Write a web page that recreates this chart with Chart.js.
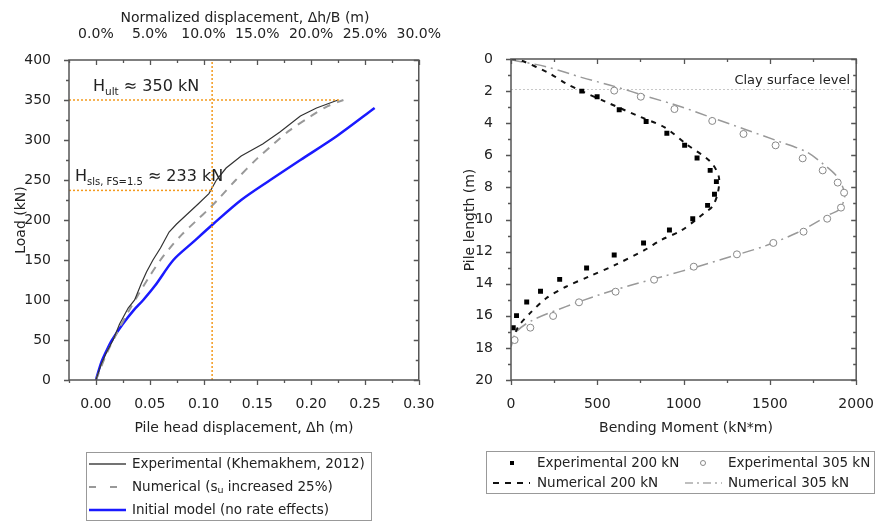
<!DOCTYPE html>
<html><head><meta charset="utf-8">
<script src="https://cdn.jsdelivr.net/npm/chart.js@4.4.1/dist/chart.umd.min.js"></script>
<style>
html,body{margin:0;padding:0;background:#fff;}
#wrap{position:relative;width:882px;height:523px;overflow:hidden;}
#c1{position:absolute;left:0;top:0;}
#c2{position:absolute;left:450px;top:0;}
</style></head><body>
<div id="wrap"><canvas id="c1" width="450" height="523"></canvas><canvas id="c2" width="432" height="523"></canvas></div>
<script>
// ---------- Left chart data ----------
const expDisp = [0,0.005,0.010,0.016,0.022,0.030,0.036,0.042,0.047,0.053,0.060,0.068,0.075,0.083,0.095,0.105,0.112,0.121,0.135,0.155,0.171,0.190,0.205,0.225];
const expLoad = [0,20,35,50,70,90,100,120,135,150,165,185,195,205,220,233,250,265,280,295,310,330,340,350];
const numDisp = [0,0.010,0.020,0.030,0.040,0.050,0.060,0.070,0.080,0.094,0.105,0.115,0.130,0.150,0.165,0.180,0.200,0.215,0.230];
const numLoad = [0,33,60,85,108,130,150,167,182,200,214,228,250,277,295,312,330,342,350];
const iniDisp = [0,0.005,0.010,0.015,0.025,0.035,0.044,0.055,0.072,0.090,0.109,0.135,0.162,0.190,0.224,0.259];
const iniLoad = [0,22,37,50,70,87,100,118,150,172,195,225,250,275,305,340];
const hultX = [-0.025,0.227]; const hultY = [350,350];
const hslsX = [-0.025,0.108]; const hslsY = [237,237];
const vertX = [0.108,0.108]; const vertY = [0,400];
const xTicksLeft = [0,0.05,0.10,0.15,0.20,0.25,0.30];
const xMinorLeft = [-0.025,0.025,0.075,0.125,0.175,0.225,0.275];
const yTicksLeft = [0,50,100,150,200,250,300,350,400];
const yMinorLeft = [25,75,125,175,225,275,325,375];
const leftLegend = ['Experimental (Khemakhem, 2012)','Numerical (s','u',' increased 25%)','Initial model (no rate effects)'];

// ---------- Right chart data ----------
const exp200M = [410,499,627,783,903,1006,1078,1154,1190,1179,1139,1053,918,768,598,438,282,171,91,32,13];
const exp200D = [2.0,2.35,3.16,3.9,4.63,5.38,6.17,6.94,7.64,8.43,9.12,9.95,10.65,11.46,12.21,13.02,13.73,14.47,15.14,15.99,16.74];
const exp305M = [598,752,947,1166,1347,1533,1690,1806,1893,1930,1912,1832,1695,1520,1309,1059,829,606,394,244,112,21];
const exp305D = [1.97,2.35,3.12,3.86,4.67,5.38,6.19,6.94,7.7,8.33,9.26,9.95,10.76,11.46,12.17,12.94,13.75,14.5,15.16,16.01,16.74,17.51];
const num200M = [0,60,223,318,420,547,747,890,1023,1156,1204,1198,1166,1120,1070,985,870,775,604,451,318,204,109,42,4,0];
const num200D = [0,0.1,0.9,1.52,2.05,2.66,3.6,4.26,5.36,6.4,7.33,8.37,9.2,9.6,10.03,10.7,11.28,11.9,12.83,13.56,14.19,14.91,15.85,16.68,17.71,18.0];
const num305M = [0,10,204,413,604,794,985,1175,1366,1556,1709,1804,1890,1928,1932,1899,1842,1790,1651,1461,1270,1080,890,699,509,318,127,32,0];
const num305D = [0,0.06,0.48,1.16,1.72,2.35,2.97,3.7,4.42,5.15,5.77,6.5,7.33,8.16,8.7,9.41,9.7,10.05,10.86,11.69,12.32,12.94,13.52,14.08,14.7,15.43,16.26,16.99,17.93];
const clayX = [0,2000]; const clayY = [1.9,1.9];
const xMinorRight = [250,750,1250,1750];
const yMinorRight = [1,3,5,7,9,11,13,15,17,19];
const rightLegend = ['Experimental 200 kN','Experimental 305 kN','Numerical 200 kN','Numerical 305 kN'];

const FONT = "'DejaVu Sans', sans-serif";
const TXT = '#222';
const AX = '#555';
const zip = (xs, ys) => xs.map((x, i) => ({x, y: ys[i]}));

function subText(ctx, x, y, parts, size, subSize) {
  let cx = x;
  for (const [t, sub] of parts) {
    ctx.font = (sub ? subSize : size) + 'px ' + FONT;
    ctx.fillText(t, cx, sub ? y + size * 0.28 : y);
    cx += ctx.measureText(t).width;
  }
}

function drawFrameTicks(chart, xMinor, yMinor) {
  const {ctx, chartArea: {left, right, top, bottom}, scales} = chart;
  ctx.save();
  ctx.strokeStyle = AX; ctx.lineWidth = 1.3;
  ctx.beginPath();
  const xs = scales.x, ys = scales.y;
  xs.ticks.forEach(t => { const p = Math.round(xs.getPixelForValue(t.value)) + 0.5;
    ctx.moveTo(p, bottom); ctx.lineTo(p, bottom + 5); ctx.moveTo(p, top); ctx.lineTo(p, top + 5); });
  xMinor.forEach(v => { const p = Math.round(xs.getPixelForValue(v)) + 0.5;
    ctx.moveTo(p, bottom); ctx.lineTo(p, bottom + 3); ctx.moveTo(p, top); ctx.lineTo(p, top + 3); });
  ys.ticks.forEach(t => { const p = Math.round(ys.getPixelForValue(t.value)) + 0.5;
    ctx.moveTo(left, p); ctx.lineTo(left - 5, p); ctx.moveTo(right, p); ctx.lineTo(right - 5, p); });
  yMinor.forEach(v => { const p = Math.round(ys.getPixelForValue(v)) + 0.5;
    ctx.moveTo(left, p); ctx.lineTo(left - 3, p); ctx.moveTo(right, p); ctx.lineTo(right - 3, p); });
  ctx.stroke();
  ctx.lineWidth = 1.5;
  ctx.strokeRect(left, top, right - left, bottom - top);
  ctx.restore();
}

const leftPlugin = {
  id: 'leftDecor',
  afterDraw(chart) {
    const ctx = chart.ctx;
    drawFrameTicks(chart, xMinorLeft, yMinorLeft);
    ctx.save();
    ctx.fillStyle = TXT;
    ctx.textBaseline = 'alphabetic';
    ctx.textAlign = 'left';
    subText(ctx, 93, 91, [['H', false], ['ult', true], [' \u2248 350 kN', false]], 16, 10.5);
    subText(ctx, 75, 181, [['H', false], ['sls, FS=1.5', true], [' \u2248 233 kN', false]], 16, 10);
    // axis titles
    ctx.font = '14px ' + FONT;
    ctx.textAlign = 'center'; ctx.textBaseline = 'middle';
    ctx.fillText('Normalized displacement, \u0394h/B (m)', 245, 18);
    ctx.fillText('Pile head displacement, \u0394h (m)', 244, 428);
    ctx.save(); ctx.translate(21, 220); ctx.rotate(-Math.PI / 2);
    ctx.fillText('Load (kN)', 0, 0); ctx.restore();
    // legend
    ctx.strokeStyle = '#999'; ctx.lineWidth = 1;
    ctx.strokeRect(86.5, 452.5, 285, 68);
    ctx.lineWidth = 1.5; ctx.strokeStyle = '#444';
    ctx.beginPath(); ctx.moveTo(89, 464); ctx.lineTo(126, 464); ctx.stroke();
    ctx.strokeStyle = '#999'; ctx.lineWidth = 2;
    ctx.beginPath(); ctx.moveTo(89, 487); ctx.lineTo(96, 487); ctx.moveTo(110, 487); ctx.lineTo(117, 487); ctx.stroke();
    ctx.strokeStyle = '#1a1aff'; ctx.lineWidth = 2.5;
    ctx.beginPath(); ctx.moveTo(89, 510); ctx.lineTo(126, 510); ctx.stroke();
    ctx.textAlign = 'left'; ctx.textBaseline = 'middle'; ctx.fillStyle = TXT;
    ctx.font = '13.5px ' + FONT;
    ctx.fillText(leftLegend[0], 132, 464);
    subText(ctx, 132, 487, [[leftLegend[1], false], [leftLegend[2], true], [leftLegend[3], false]], 13.5, 9.5);
    ctx.font = '13.5px ' + FONT;
    ctx.fillText(leftLegend[4], 132, 510);
    ctx.restore();
  }
};

const rightPlugin = {
  id: 'rightDecor',
  afterDraw(chart) {
    const ctx = chart.ctx;
    drawFrameTicks(chart, xMinorRight, yMinorRight);
    ctx.save();
    ctx.fillStyle = TXT;
    ctx.font = '13px ' + FONT;
    ctx.textAlign = 'right'; ctx.textBaseline = 'alphabetic';
    ctx.fillText('Clay surface level', 400, 84);
    ctx.font = '14px ' + FONT;
    ctx.textAlign = 'center'; ctx.textBaseline = 'middle';
    ctx.fillText('Bending Moment (kN*m)', 236, 428);
    ctx.save(); ctx.translate(20, 220); ctx.rotate(-Math.PI / 2);
    ctx.fillText('Pile length (m)', 0, 0); ctx.restore();
    // legend
    ctx.strokeStyle = '#999'; ctx.lineWidth = 1;
    ctx.strokeRect(36.5, 451.5, 388, 42);
    ctx.fillStyle = '#000';
    ctx.fillRect(60, 461, 4, 4);
    ctx.strokeStyle = '#888'; ctx.lineWidth = 1;
    ctx.beginPath(); ctx.arc(253, 463, 2.5, 0, Math.PI * 2); ctx.stroke();
    ctx.strokeStyle = '#111'; ctx.lineWidth = 2;
    ctx.setLineDash([6, 6]);
    ctx.beginPath(); ctx.moveTo(43, 483); ctx.lineTo(80, 483); ctx.stroke();
    ctx.strokeStyle = '#aaa'; ctx.lineWidth = 1.5;
    ctx.setLineDash([8, 4, 2, 4]);
    ctx.beginPath(); ctx.moveTo(235, 483); ctx.lineTo(272, 483); ctx.stroke();
    ctx.setLineDash([]);
    ctx.fillStyle = TXT; ctx.textAlign = 'left'; ctx.textBaseline = 'middle';
    ctx.font = '13.5px ' + FONT;
    ctx.fillText(rightLegend[0], 87, 463);
    ctx.fillText(rightLegend[1], 278, 463);
    ctx.fillText(rightLegend[2], 87, 483);
    ctx.fillText(rightLegend[3], 278, 483);
    ctx.restore();
  }
};

const tickFont = {family: FONT, size: 14};
const orange = '#f39a1e';

new Chart(document.getElementById('c1'), {
  type: 'scatter',
  data: {datasets: [
    {data: zip(vertX, vertY), showLine: true, borderColor: orange, borderWidth: 1.5, borderDash: [2, 2], pointRadius: 0},
    {data: zip(hultX, hultY), showLine: true, borderColor: orange, borderWidth: 1.5, borderDash: [2, 2], pointRadius: 0},
    {data: zip(hslsX, hslsY), showLine: true, borderColor: orange, borderWidth: 1.5, borderDash: [2, 2], pointRadius: 0},
    {label: 'Experimental (Khemakhem, 2012)', data: zip(expDisp, expLoad), showLine: true, borderColor: '#333', borderWidth: 1.2, pointRadius: 0, tension: 0},
    {label: 'Numerical (su increased 25%)', data: zip(numDisp, numLoad), showLine: true, borderColor: '#999', borderWidth: 2, borderDash: [8, 7], pointRadius: 0, tension: 0.3},
    {label: 'Initial model (no rate effects)', data: zip(iniDisp, iniLoad), showLine: true, borderColor: '#1a1aff', borderWidth: 2.5, pointRadius: 0, tension: 0.3}
  ]},
  options: {
    responsive: false, animation: false,
    layout: {padding: 0},
    plugins: {legend: {display: false}, tooltip: {enabled: false}},
    scales: {
      x: {type: 'linear', position: 'bottom', min: -0.025, max: 0.30,
        afterBuildTicks: a => { a.ticks = xTicksLeft.map(v => ({value: v})); },
        ticks: {callback: v => v.toFixed(2), font: tickFont, color: TXT, padding: 8, maxRotation: 0, autoSkip: false},
        grid: {display: false}, border: {display: false},
        afterFit: s => { s.height = 143; }},
      x2: {type: 'linear', position: 'top', min: -0.025, max: 0.30,
        afterBuildTicks: a => { a.ticks = xTicksLeft.map(v => ({value: v})); },
        ticks: {callback: v => (v * 100).toFixed(1) + '%', font: tickFont, color: TXT, padding: 9, maxRotation: 0, autoSkip: false},
        grid: {display: false}, border: {display: false},
        afterFit: s => { s.height = 60; }},
      y: {type: 'linear', min: 0, max: 400,
        afterBuildTicks: a => { a.ticks = yTicksLeft.map(v => ({value: v})); },
        ticks: {callback: v => String(v), font: tickFont, color: TXT, padding: 10},
        grid: {display: false}, border: {display: false},
        afterFit: s => { s.width = 69; }},
      y2: {type: 'linear', position: 'right', min: 0, max: 400,
        ticks: {display: false}, grid: {display: false}, border: {display: false},
        afterFit: s => { s.width = 31; }}
    }
  },
  plugins: [leftPlugin]
});

new Chart(document.getElementById('c2'), {
  type: 'scatter',
  data: {datasets: [
    {label: 'Experimental 200 kN', data: zip(exp200M, exp200D), showLine: false, pointStyle: 'rect', pointRadius: 3.5, backgroundColor: '#000', borderColor: '#000', borderWidth: 0},
    {label: 'Experimental 305 kN', data: zip(exp305M, exp305D), showLine: false, pointStyle: 'circle', pointRadius: 3.5, backgroundColor: '#fff', borderColor: '#888', borderWidth: 1},
    {label: 'Numerical 200 kN', data: zip(num200M, num200D), showLine: true, borderColor: '#111', borderWidth: 2, borderDash: [5, 6], pointRadius: 0, tension: 0.3},
    {label: 'Numerical 305 kN', data: zip(num305M, num305D), showLine: true, borderColor: '#999', borderWidth: 1.5, borderDash: [12, 5, 2, 5], pointRadius: 0, tension: 0.3},
    {data: zip(clayX, clayY), showLine: true, borderColor: '#c8c8c8', borderWidth: 1, borderDash: [2, 2], pointRadius: 0}
  ]},
  options: {
    responsive: false, animation: false,
    layout: {padding: {top: 59, right: 21, left: 0, bottom: 0}},
    plugins: {legend: {display: false}, tooltip: {enabled: false}},
    scales: {
      x: {type: 'linear', position: 'bottom', min: 0, max: 2000,
        ticks: {stepSize: 500, callback: v => String(v), font: tickFont, color: TXT, padding: 8, maxRotation: 0, autoSkip: false},
        grid: {display: false}, border: {display: false},
        afterFit: s => { s.height = 143; }},
      y: {type: 'linear', min: 0, max: 20, reverse: true,
        ticks: {stepSize: 2, callback: v => String(v), font: tickFont, color: TXT, padding: 10},
        grid: {display: false}, border: {display: false},
        afterFit: s => { s.width = 61; }}
    }
  },
  plugins: [rightPlugin]
});
</script>
</body></html>
